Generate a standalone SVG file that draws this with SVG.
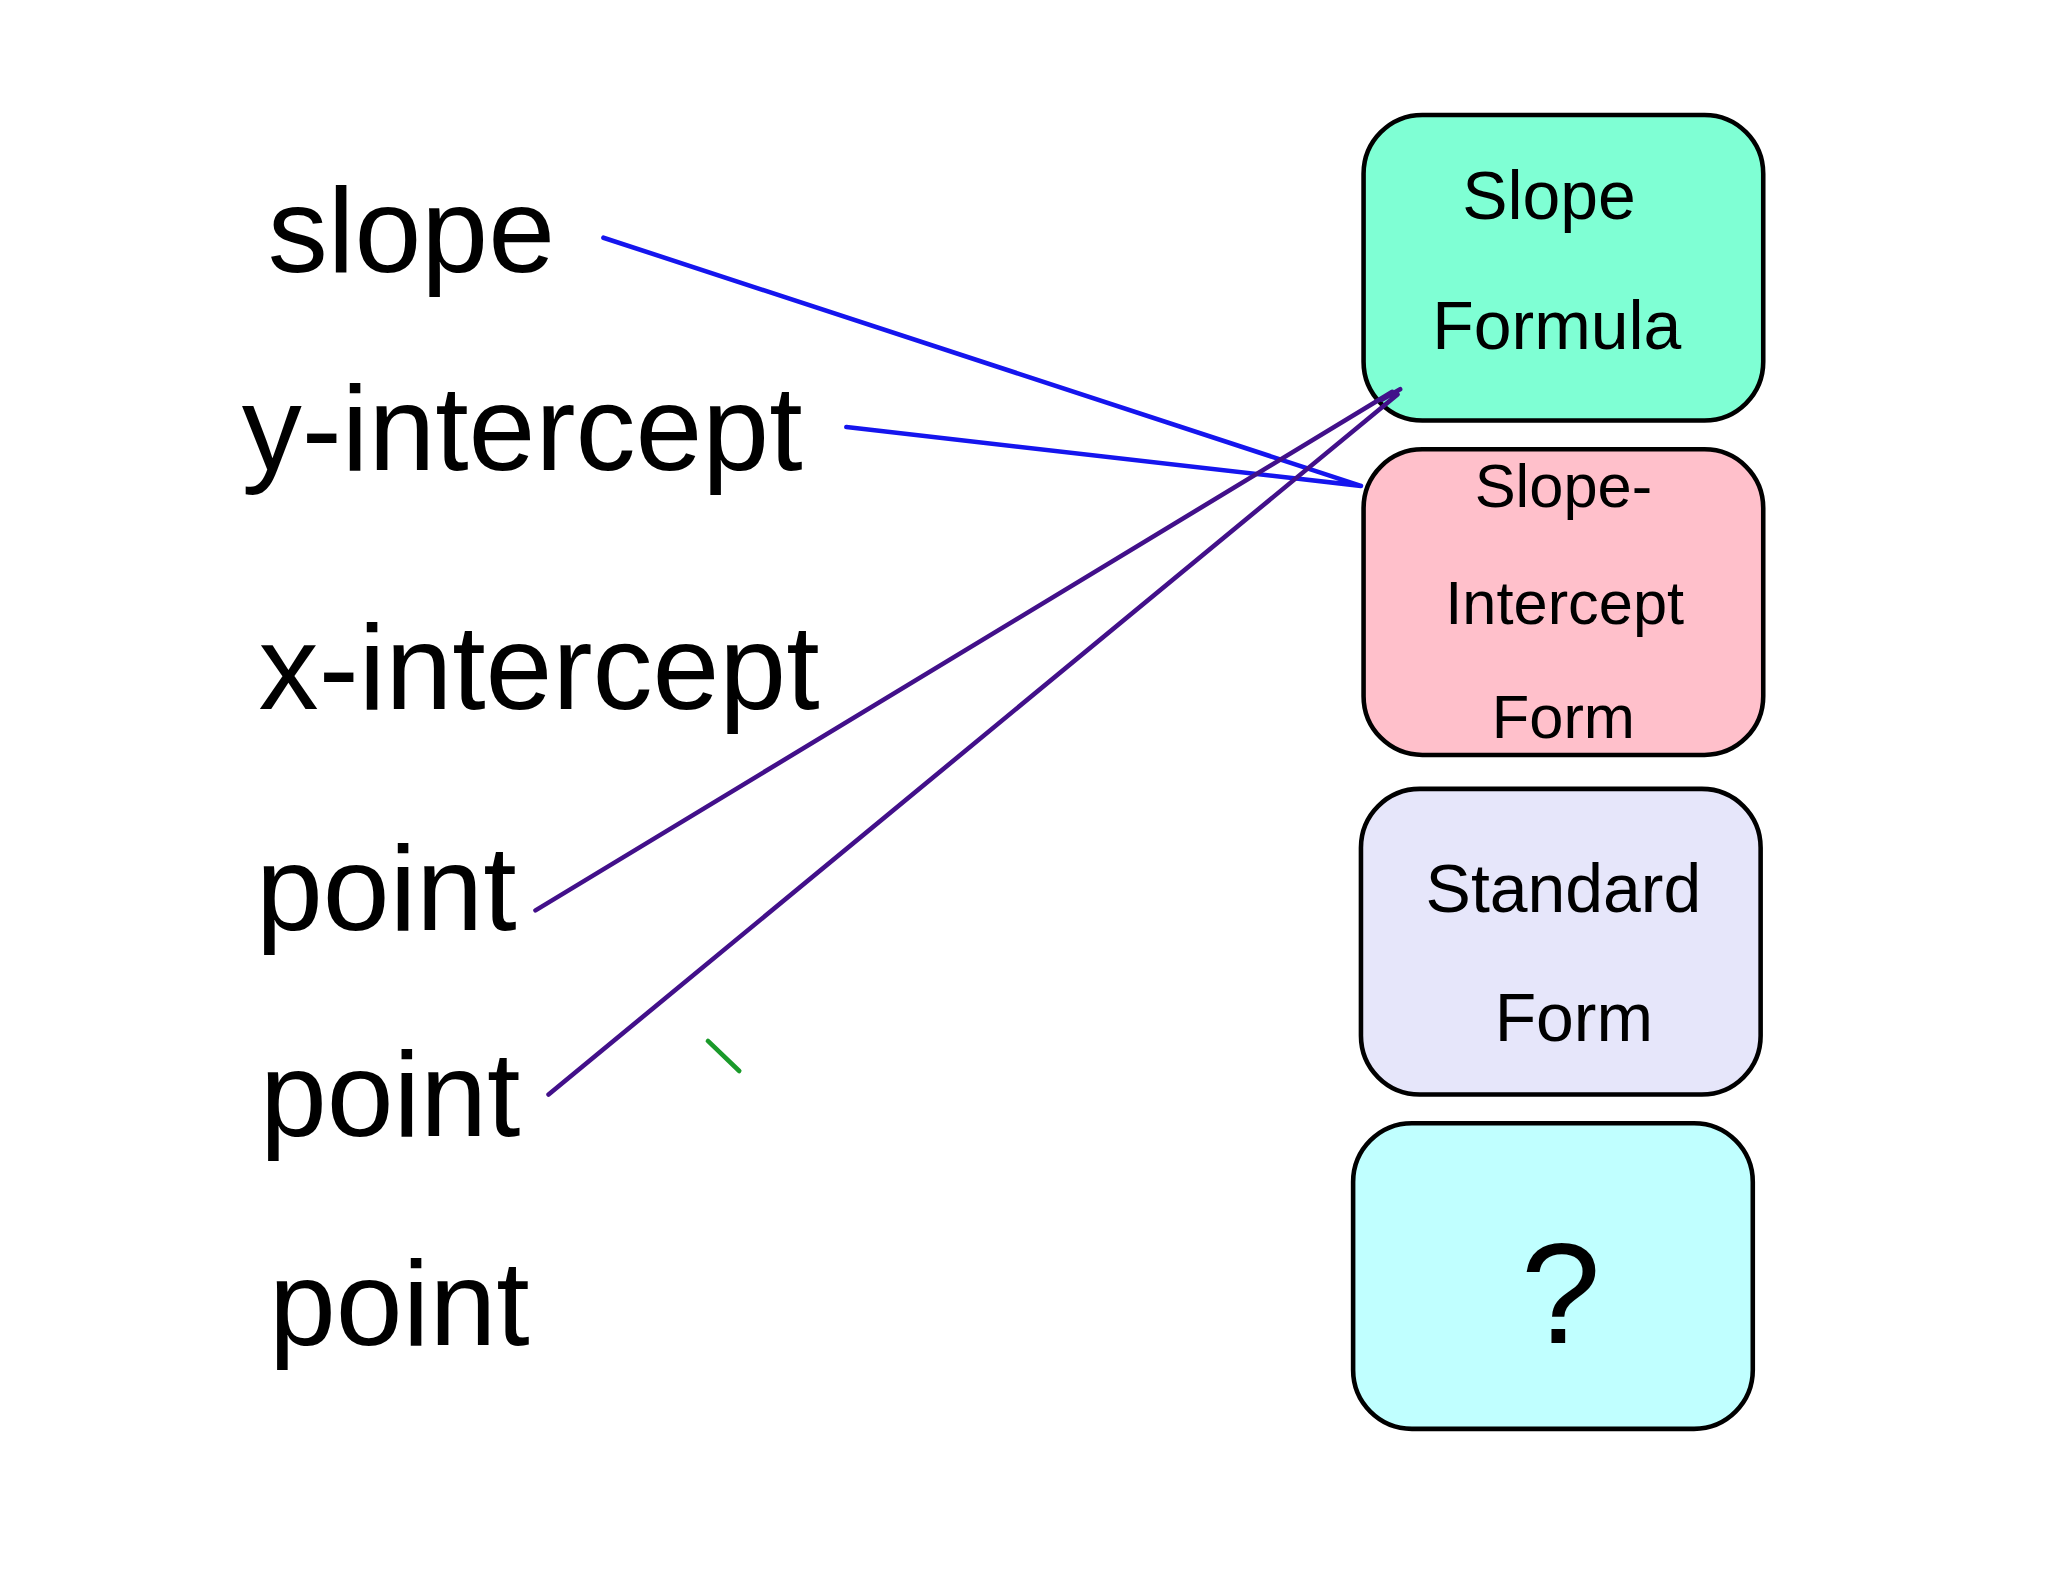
<svg xmlns="http://www.w3.org/2000/svg" width="2048" height="1582" viewBox="0 0 2048 1582">
<style>
.lbl{font-family:"Liberation Sans",Arial,sans-serif;font-size:92px;fill:#000}
.bt{font-family:"Liberation Sans",Arial,sans-serif;font-size:52px;fill:#000;text-anchor:middle}
.box{stroke:#000;stroke-width:3.5}
.c{fill:none;stroke-width:3.5;stroke-linecap:round}
</style>
<rect width="2048" height="1582" fill="#fff"/>
<g transform="scale(1.3061)">
<g id="labels">
<text class="lbl" x="205" y="208">slope</text>
<text class="lbl" x="185" y="360">y-intercept</text>
<text class="lbl" x="198" y="543">x-intercept</text>
<text class="lbl" x="196" y="712">point</text>
<text class="lbl" x="199" y="870">point</text>
<text class="lbl" x="206" y="1030">point</text>
</g>
<g id="n1"><rect class="box" x="1044" y="88" width="306" height="234" rx="45" fill="#7fffd4"/>
<text class="bt" x="1186" y="168">Slope</text><text class="bt" x="1192" y="267">Formula</text></g>
<g id="n2"><rect class="box" x="1044" y="344" width="306" height="234" rx="45" fill="#ffc0cb"/>
<text class="bt" x="1197" y="388" style="font-size:47px">Slope-</text><text class="bt" x="1198" y="478" style="font-size:47px">Intercept</text><text class="bt" x="1197" y="565" style="font-size:47px">Form</text></g>
<g id="n3"><rect class="box" x="1042" y="604" width="306" height="234" rx="45" fill="#e6e6fa"/>
<text class="bt" x="1197" y="698">Standard</text><text class="bt" x="1205" y="797">Form</text></g>
<g id="n4"><rect class="box" x="1036" y="860" width="306" height="234" rx="45" fill="#c0ffff"/>
<text class="bt" x="1195" y="1028" style="font-size:110px">?</text></g>
<g id="connectors">
<path class="c" stroke="#1515ee" d="M462 182L1042 372M648 327L1042 372"/>
<path class="c" stroke="#42108a" d="M410 697L1066 300M420 838L1070 302M1058 306L1072 298"/>
<path class="c" stroke="#1a9a2a" d="M542 797L566 820"/>
</g>
</g>
</svg>
